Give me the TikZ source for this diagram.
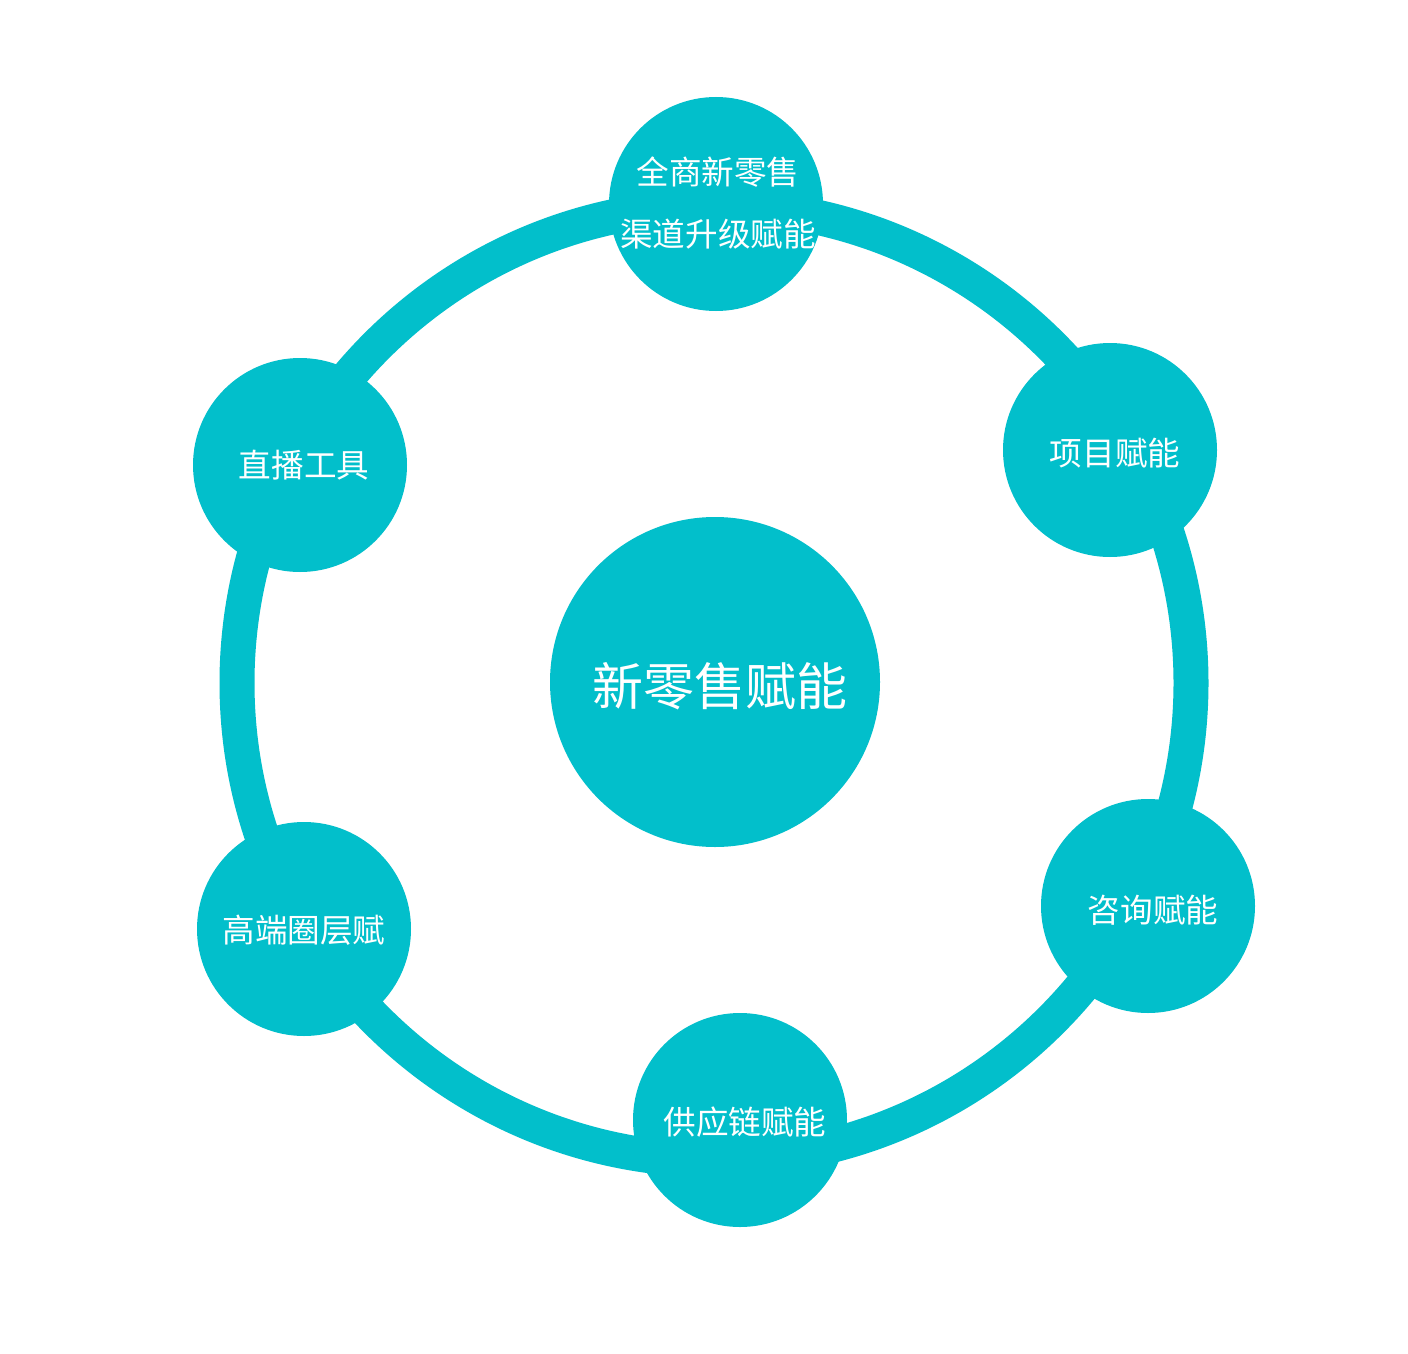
\documentclass[tikz,border=0pt]{standalone}
\usepackage{fontspec}
\newfontfamily\cjk{Noto Sans CJK SC}
\definecolor{teal}{HTML}{02BFCB}
\begin{document}
\begin{tikzpicture}[x=0.5pt,y=-0.5pt,
  small/.style={circle,fill=teal,minimum size=107pt,inner sep=0pt},
  big/.style={circle,fill=teal,minimum size=165pt,inner sep=0pt},
  stxt/.style={text=white,font=\cjk\fontsize{16.3}{30}\selectfont,align=center,inner sep=0pt},
  btxt/.style={text=white,font=\cjk\fontsize{25.5}{30}\selectfont,inner sep=0pt}]
\useasboundingbox[fill=white] (0,0) rectangle (1408,1354);
\coordinate (c) at (714,683);
\draw[teal,line width=17.5pt] (c) circle[radius=477];
\node[big] (center) at (715,682) {};
\node[small] (top) at (716,204) {};
\node[small] (rt) at (1110,450) {};
\node[small] (rb) at (1148,906) {};
\node[small] (bot) at (740,1120) {};
\node[small] (lb) at (304,929) {};
\node[small] (lt) at (300,465) {};
\node[btxt] (centert) at ([shift={(5,4)}]center) {新零售赋能};
\node[stxt] (topt) at ([shift={(2,-1)}]top) {全商新零售\\[1pt]渠道升级赋能};
\node[stxt] (rtt) at ([shift={(5,3)}]rt) {项目赋能};
\node[stxt] (rbt) at ([shift={(5,4)}]rb) {咨询赋能};
\node[stxt] (bott) at ([shift={(5,2)}]bot) {供应链赋能};
\node[stxt] (lbt) at ([shift={(0,1)}]lb) {高端圈层赋};
\node[stxt] (ltt) at ([shift={(4,0)}]lt) {直播工具};
\end{tikzpicture}
\end{document}
